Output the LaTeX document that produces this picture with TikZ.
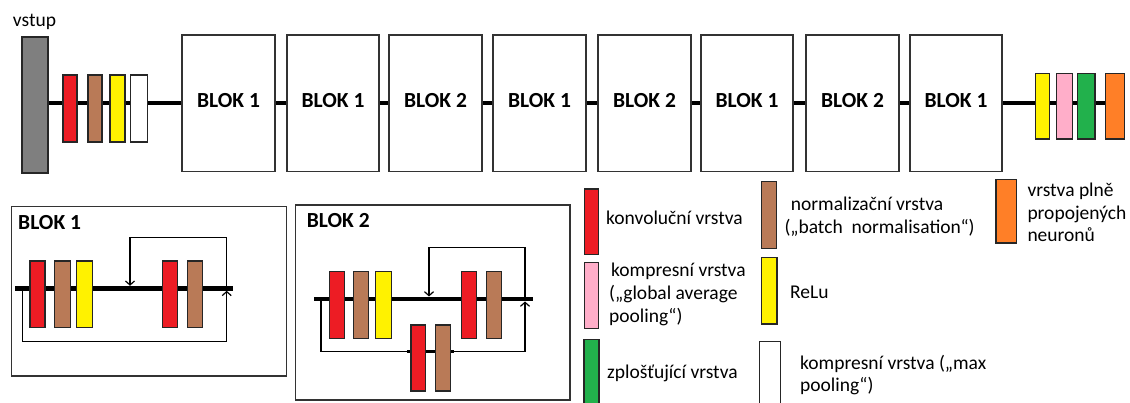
\documentclass[tikz,border=0pt]{standalone}
\usepackage{fontspec}
\setmainfont{Carlito}
\usetikzlibrary{arrows.meta,backgrounds}
\definecolor{inputgray}{HTML}{7F7F7F}
\definecolor{convred}{HTML}{ED1C24}
\definecolor{normbrown}{HTML}{B97A57}
\definecolor{reluyellow}{HTML}{FFF200}
\definecolor{gappink}{HTML}{FFAEC9}
\definecolor{flatgreen}{HTML}{22B14C}
\definecolor{fcorange}{HTML}{FF7F27}
\begin{document}
\begin{tikzpicture}[x=1pt,y=-1pt,
  layer/.style={draw=black!85, line width=1.1pt, inner sep=0pt, minimum height=66.5pt},
  blok/.style={draw=black!80, line width=1.3pt, fill=white, inner sep=0pt,
    minimum width=93pt, minimum height=136.7pt,
    font=\fontsize{21.5}{25}\selectfont\bfseries, text depth=5pt},
  bus/.style={line width=4.5pt},
  skip/.style={line width=1.2pt},
  tip/.style={-{Straight Barb[length=4pt,width=9pt]}},
  frame/.style={draw=black!80, line width=1.3pt, inner sep=0pt},
  lbl/.style={anchor=base west, inner sep=0pt, font=\fontsize{19.5}{23}\selectfont},
  title/.style={anchor=base west, inner sep=0pt, font=\fontsize{21.5}{25}\selectfont\bfseries},
]
\useasboundingbox (0,0) rectangle (1130,403);

% ---------- main network ----------
\node[lbl] (vstup) at (12.7,26.7) {vstup};
\node[layer, fill=inputgray, minimum width=26pt, minimum height=136pt] (in) at (35,105) {};
\node[layer, fill=convred, minimum width=14pt, minimum height=67pt] (c0) at (70,108.5) {};
\node[layer, fill=normbrown, minimum width=14pt, minimum height=67pt] (n0) at (95,108.5) {};
\node[layer, fill=reluyellow, minimum width=15pt, minimum height=67pt] (a0) at (117.5,108.5) {};
\node[layer, fill=white, minimum width=17pt, minimum height=67pt] (p0) at (138.8,108.5) {};

\node[blok] (b1) at (228.5,103.3) {BLOK 1};
\node[blok, minimum width=92pt] (b2) at (333,103.3) {BLOK 1};
\node[blok] (b3) at (435.5,103.3) {BLOK 2};
\node[blok] (b4) at (539.5,103.3) {BLOK 1};
\node[blok] (b5) at (644.5,103.3) {BLOK 2};
\node[blok, minimum width=92pt] (b6) at (747,103.3) {BLOK 1};
\node[blok] (b7) at (852.5,103.3) {BLOK 2};
\node[blok, minimum width=92pt] (b8) at (956,103.3) {BLOK 1};

\node[layer, fill=reluyellow, minimum width=14.3pt, minimum height=65.7pt] (a9) at (1042.2,106.2) {};
\node[layer, fill=gappink, minimum width=15.6pt, minimum height=65.7pt] (g9) at (1064.5,106.2) {};
\node[layer, fill=flatgreen, minimum width=17.3pt, minimum height=65.7pt] (f9) at (1086.3,106.2) {};
\node[layer, fill=fcorange, minimum width=19.3pt, minimum height=65.7pt] (o9) at (1114.7,106.2) {};

\coordinate (busy) at (0,103);
\begin{scope}[on background layer]
  \draw[bus] (in.east |- busy) -- (b1.west |- busy);
  \draw[bus] (b1.east |- busy) -- (b2.west |- busy);
  \draw[bus] (b2.east |- busy) -- (b3.west |- busy);
  \draw[bus] (b3.east |- busy) -- (b4.west |- busy);
  \draw[bus] (b4.east |- busy) -- (b5.west |- busy);
  \draw[bus] (b5.east |- busy) -- (b6.west |- busy);
  \draw[bus] (b6.east |- busy) -- (b7.west |- busy);
  \draw[bus] (b7.east |- busy) -- (b8.west |- busy);
  \draw[bus] (b8.east |- busy) -- (o9.west |- busy);
\end{scope}

% ---------- BLOK 1 detail ----------
\node[frame, minimum width=275pt, minimum height=169.3pt] (fr1) at (149.2,291.35) {};
\node[title] (t1) at (18,229.8) {BLOK 1};
\node[layer, fill=convred, minimum width=15pt] (c11) at (37.5,294.3) {};
\node[layer, fill=normbrown, minimum width=15.7pt] (n11) at (62.2,294.3) {};
\node[layer, fill=reluyellow, minimum width=16pt] (a11) at (84.7,294.3) {};
\node[layer, fill=convred, minimum width=15pt] (c12) at (169.8,294.3) {};
\node[layer, fill=normbrown, minimum width=15.3pt] (n12) at (194.7,294.3) {};
\coordinate (i1) at (15,288.3);
\coordinate (o1) at (233.3,288.3);
\coordinate (d1) at (22.3,288.3);
\coordinate (j1) at (226.7,288.3);
\coordinate (m1) at (130,288.3);
\coordinate (u1) at (130,237.7);
\coordinate (l1) at (226.7,341.7);
\begin{scope}[on background layer]
  \draw[bus] (i1) -- (o1);
\end{scope}
\draw[skip, tip] (j1) |- (u1) -- ([yshift=2.5pt]m1);
\draw[skip, tip] (d1) |- (l1) -- ([yshift=-2.5pt]j1);

% ---------- BLOK 2 detail ----------
\node[frame, minimum width=274.3pt, minimum height=195pt] (fr2) at (432.85,302.5) {};
\node[title] (t2) at (306.7,227.5) {BLOK 2};
\node[layer, fill=convred, minimum width=14.7pt] (c21) at (336.7,305) {};
\node[layer, fill=normbrown, minimum width=15.4pt] (n21) at (361,305) {};
\node[layer, fill=reluyellow, minimum width=16pt] (a21) at (383.7,305) {};
\node[layer, fill=convred, minimum width=14.6pt] (c22) at (469,305) {};
\node[layer, fill=normbrown, minimum width=15.3pt] (n22) at (493.7,305) {};
\node[layer, fill=convred, minimum width=14.7pt, minimum height=66pt] (c23) at (418.3,358) {};
\node[layer, fill=normbrown, minimum width=15.4pt, minimum height=66pt] (n23) at (443,358) {};
\coordinate (i2) at (314.3,299);
\coordinate (o2) at (533.3,299);
\coordinate (d2) at (321,299);
\coordinate (j2) at (525,299);
\coordinate (m2) at (429,299);
\coordinate (u2) at (429,247.7);
\coordinate (l2) at (321,351.7);
\coordinate (r2) at (525,351.7);
\begin{scope}[on background layer]
  \draw[bus] (i2) -- (o2);
  \draw[line width=3.5pt] ([xshift=-3pt]c23.west |- l2) -- ([xshift=3pt]n23.east |- l2);
\end{scope}
\draw[skip, tip] (j2) |- (u2) -- ([yshift=2.5pt]m2);
\draw[skip] (d2) -- (l2) -- (c23.west |- l2);
\draw[skip, tip] (n23.east |- l2) -- (r2) -- ([yshift=-2.5pt]j2);

% ---------- legend ----------
\node[layer, fill=convred, minimum width=14.3pt, minimum height=65.3pt] (kc) at (591.2,221.7) {};
\node[lbl] (kct) at (606,225) {konvoluční vrstva};

\node[layer, fill=gappink, minimum width=14.3pt, minimum height=66.3pt] (kg) at (591.2,295.8) {};
\node[lbl] (kgt1) at (611,276.5) {kompresní vrstva};
\node[lbl] (kgt2) at (609,300) {(„global average};
\node[lbl] (kgt3) at (609,323) {pooling“)};

\node[layer, fill=flatgreen, minimum width=15pt, minimum height=66pt] (kf) at (591.5,372.3) {};
\node[lbl] (kft) at (607,378.8) {zplošťující vrstva};

\node[layer, fill=normbrown, minimum width=15pt, minimum height=66.6pt] (kn) at (769.2,215) {};
\node[lbl] (knt1) at (790.7,210.8) {normalizační vrstva};
\node[lbl] (knt2) at (784.3,233.2) {(„batch\ \ normalisation“)};

\node[layer, fill=reluyellow, minimum width=15.3pt, minimum height=66.7pt] (ka) at (769.3,290.7) {};
\node[lbl] (kat) at (790,298.2) {ReLu};

\node[layer, fill=white, minimum width=21.4pt, minimum height=66pt] (kp) at (770,374.7) {};
\node[lbl] (kpt1) at (800,369.2) {kompresní vrstva („max};
\node[lbl] (kpt2) at (800,391.5) {pooling“)};

\node[layer, fill=fcorange, minimum width=20.7pt, minimum height=63.7pt] (ko) at (1006.3,211.2) {};
\node[lbl] (kot1) at (1027.3,196.5) {vrstva plně};
\node[lbl] (kot2) at (1027.3,219.2) {propojených};
\node[lbl] (kot3) at (1027.3,241.5) {neuronů};
\end{tikzpicture}
\end{document}
